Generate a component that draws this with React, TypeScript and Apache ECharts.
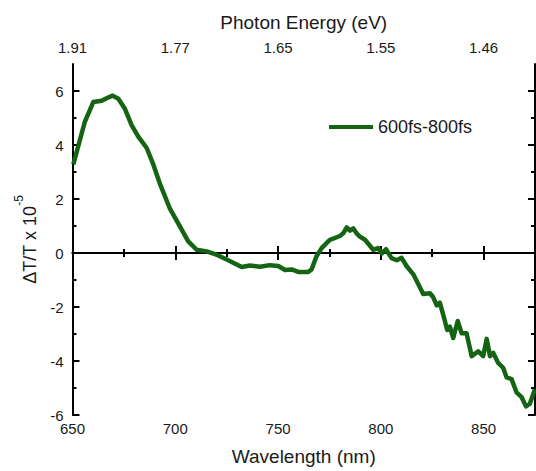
import React, { useEffect, useRef } from "react";
import * as echarts from "echarts";

// Wavelength (nm) and ΔT/T x 10^-5
const wavelengths = [
  650.4, 656, 660.1, 664.2, 666.6, 669.5, 672.3, 675.5, 678.8, 682, 686.1, 689.3, 692.6, 697.4,
  701.5, 706.3, 710.4, 715.3, 718.5, 721.7, 725, 732.3, 736.3, 741.2, 746, 750.1, 753.4, 756.6,
  759.8, 764.7, 766.3, 768.7, 771.2, 775.2, 780.1, 781.7, 783.4, 785, 786.6, 788.2, 789.8, 792.3,
  796.3, 798.7, 800.4, 802.5, 805.2, 807.7, 810.1, 812.5, 815.8, 818.2, 820.6, 823.9, 825.5,
  827.2, 828.7, 830.4, 832.3, 833.6, 835.2, 837.4, 839.3, 841.7, 844.2, 847.4, 849.8, 851.5,
  853.1, 854.7, 857.1, 859.5, 861.2, 863.6, 866, 868.5, 870.6, 872.5, 875,
];
const signal = [
  3.28, 4.86, 5.59, 5.64, 5.73, 5.83, 5.71, 5.34, 4.73, 4.31, 3.89, 3.28, 2.55, 1.64,
  1.09, 0.43, 0.12, 0.06, -0.02, -0.12, -0.24, -0.52, -0.46, -0.51, -0.45, -0.48, -0.63, -0.61,
  -0.7, -0.7, -0.61, -0.12, 0.18, 0.49, 0.63, 0.73, 0.95, 0.83, 0.91, 0.73, 0.61, 0.49,
  0.12, 0.18, -0.02, 0.14, -0.19, -0.27, -0.18, -0.48, -0.79, -1.15, -1.52, -1.49, -1.64,
  -1.94, -1.84, -2.3, -2.85, -2.73, -3.15, -2.52, -2.97, -2.97, -3.82, -3.64, -3.82, -3.18,
  -3.82, -3.7, -4.07, -4.25, -4.61, -4.67, -5.16, -5.34, -5.68, -5.58, -5.04,
];

const seriesName = "600fs-800fs";
const xMajorTicks = [650, 700, 750, 800, 850];
const xMinorTicks = [675, 725, 775, 825];
const energyLabels = ["1.91", "1.77", "1.65", "1.55", "1.46"];
const yMajorTicks = [-6, -4, -2, 0, 2, 4, 6];
const yMinorTicks = [-5, -3, -1, 1, 3, 5];
const zeroLine = [
  [650, 0],
  [875, 0],
];

const FONT = "'Liberation Sans', Arial, sans-serif";
const TXT = "#1a1a1a";
const GREEN = "#146414";

export default function App() {
  const ref = useRef<HTMLDivElement>(null);
  useEffect(() => {
    if (!ref.current) return;
    const chart = echarts.init(ref.current, undefined, { renderer: "svg" });
    const axisLine = { show: true, lineStyle: { color: "#000", width: 2 } };
    const tickStyle = { color: "#000", width: 2 };
    const xBase = {
      type: "value" as const,
      min: 650,
      max: 875,
      splitLine: { show: false },
    };
    const yBase = {
      type: "value" as const,
      min: -6,
      max: 7,
      splitLine: { show: false },
    };
    chart.setOption({
      animation: false,
      textStyle: { fontFamily: FONT },
      grid: { left: 72.5, right: 1, top: 64, bottom: 50, containLabel: false },
      legend: {
        left: 324,
        top: 113,
        itemWidth: 44,
        itemHeight: 4,
        icon: "path://M0,0 L44,0 L44,4 L0,4 Z",
        data: [seriesName],
        textStyle: { fontSize: 18, color: TXT, fontFamily: FONT },
      },
      xAxis: [
        {
          ...xBase,
          position: "bottom",
          axisLine,
          axisTick: { show: true, inside: true, length: 7, lineStyle: tickStyle, customValues: xMajorTicks },
          axisLabel: { show: true, customValues: xMajorTicks, fontSize: 15, color: TXT, margin: 6, fontFamily: FONT },
          name: "Wavelength (nm)",
          nameLocation: "middle",
          nameGap: 32,
          nameTextStyle: { fontSize: 19, color: TXT, fontFamily: FONT },
        },
        {
          ...xBase,
          position: "bottom",
          axisLine: { show: false },
          axisTick: { show: true, inside: true, length: 4, lineStyle: tickStyle, customValues: xMinorTicks },
          axisLabel: { show: false },
        },
        {
          ...xBase,
          position: "top",
          axisLine,
          axisTick: { show: true, inside: true, length: 7, lineStyle: tickStyle, customValues: xMajorTicks },
          axisLabel: {
            show: true,
            customValues: xMajorTicks,
            fontSize: 15,
            color: TXT,
            margin: 9,
            fontFamily: FONT,
            formatter: (v: number) => {
              const i = xMajorTicks.indexOf(v);
              return i >= 0 ? energyLabels[i] : "";
            },
          },
          name: "Photon Energy (eV)",
          nameLocation: "middle",
          nameGap: 32,
          nameTextStyle: { fontSize: 19, color: TXT, fontFamily: FONT },
        },
        {
          ...xBase,
          position: "top",
          axisLine: { show: false },
          axisTick: { show: true, inside: true, length: 4, lineStyle: tickStyle, customValues: xMinorTicks },
          axisLabel: { show: false },
        },
      ],
      yAxis: [
        {
          ...yBase,
          position: "left",
          axisLine,
          axisTick: { show: true, inside: true, length: 7, lineStyle: tickStyle, customValues: yMajorTicks },
          axisLabel: { show: true, customValues: yMajorTicks, fontSize: 15, color: TXT, margin: 9, fontFamily: FONT },
          name: "{b|ΔT/T x 10}{sup|-5}",
          nameLocation: "middle",
          nameGap: 34,
          nameRotate: 90,
          nameTextStyle: {
            color: TXT,
            fontFamily: FONT,
            rich: {
              b: { fontSize: 18, color: TXT, fontFamily: FONT, verticalAlign: "bottom", lineHeight: 26 },
              sup: { fontSize: 12, color: TXT, fontFamily: FONT, verticalAlign: "top", lineHeight: 26 },
            },
          },
        },
        {
          ...yBase,
          position: "left",
          axisLine: { show: false },
          axisTick: { show: true, inside: true, length: 4, lineStyle: tickStyle, customValues: yMinorTicks },
          axisLabel: { show: false },
        },
        {
          ...yBase,
          position: "right",
          axisLine,
          axisTick: { show: true, inside: true, length: 7, lineStyle: tickStyle, customValues: yMajorTicks },
          axisLabel: { show: false },
        },
        {
          ...yBase,
          position: "right",
          axisLine: { show: false },
          axisTick: { show: true, inside: true, length: 4, lineStyle: tickStyle, customValues: yMinorTicks },
          axisLabel: { show: false },
        },
      ],
      series: [
        {
          name: "zero",
          type: "line",
          xAxisIndex: 0,
          yAxisIndex: 0,
          data: zeroLine,
          symbol: "none",
          lineStyle: { color: "#000", width: 2 },
          silent: true,
          z: 1,
        },
        {
          name: seriesName,
          type: "line",
          xAxisIndex: 0,
          yAxisIndex: 0,
          data: wavelengths.map((w, i) => [w, signal[i]]),
          symbol: "none",
          smooth: false,
          lineStyle: { color: GREEN, width: 4.5, join: "round" },
          itemStyle: { color: GREEN },
          z: 3,
        },
      ],
    });
    return () => chart.dispose();
  }, []);
  return (
    <div
      ref={ref}
      style={{ position: "fixed", left: 0, top: 0, width: 536, height: 471, background: "#fff" }}
    />
  );
}
